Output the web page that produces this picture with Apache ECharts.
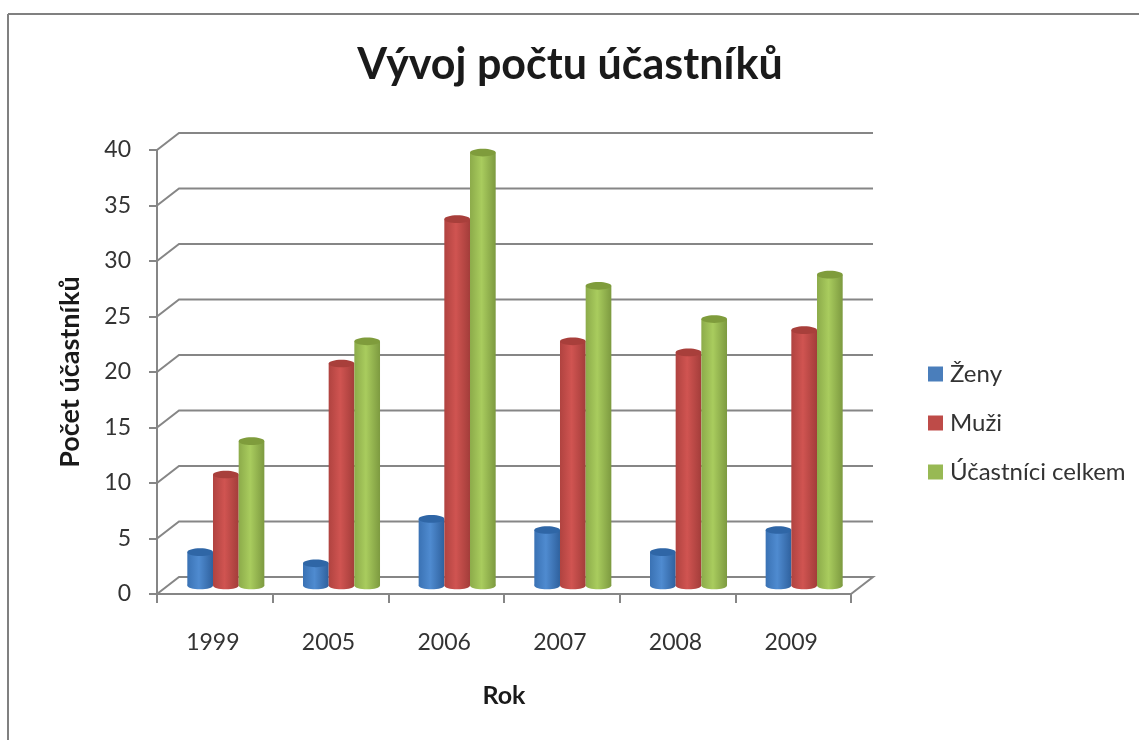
<!DOCTYPE html>
<html>
<head>
<meta charset="utf-8">
<title>Vývoj počtu účastníků</title>
<script src="https://cdn.jsdelivr.net/npm/echarts@6/dist/echarts.min.js"></script>
<style>
html, body { margin: 0; padding: 0; background: #fff; }
#chart { width: 1139px; height: 740px; }
</style>
</head>
<body>
<div id="chart"></div>
<script>
var years = ['1999', '2005', '2006', '2007', '2008', '2009'];
var zeny = [3, 2, 6, 5, 3, 5];
var muzi = [10, 20, 33, 22, 21, 23];
var celkem = [13, 22, 39, 27, 24, 28];
var gridTicks = [0, 5, 10, 15, 20, 25, 30, 35, 40];

var fontName = 'Lato';
var lineGray = '#868686';
// posun zadni steny oproti prednim osam
var wallX = 22, wallY = -17;

var chart = echarts.init(document.getElementById('chart'));

function shade(left, mid, right) {
    return {
        type: 'linear', x: 0, y: 0, x2: 1, y2: 0,
        colorStops: [
            { offset: 0, color: left },
            { offset: 0.45, color: mid },
            { offset: 1, color: right }
        ]
    };
}

function cylinder(slot, fill, topColor) {
    return function(params, api) {
        var base = api.coord([api.value(0), 0]);
        var top = api.coord([api.value(0), api.value(1)]);
        var w = api.size([1, 0])[0] * 0.222;
        var cx = base[0] + slot * w + wallX / 2;
        var yb = base[1] + wallY / 2;
        var yt = top[1] + wallY / 2;
        var ry = w * 0.15;
        return {
            type: 'group',
            children: [
                { type: 'ellipse', shape: { cx: cx, cy: yb, rx: w / 2, ry: ry }, style: { fill: fill } },
                { type: 'rect', shape: { x: cx - w / 2, y: yt, width: w, height: yb - yt }, style: { fill: fill } },
                { type: 'ellipse', shape: { cx: cx, cy: yt, rx: w / 2, ry: ry }, style: { fill: topColor } }
            ]
        };
    };
}

function barSeries(name, values, slot, flat, fill, topColor) {
    return {
        name: name,
        type: 'custom',
        z: 5,
        itemStyle: { color: flat },
        renderItem: cylinder(slot, fill, topColor),
        encode: { x: 0, y: 1 },
        data: values.map(function(v, i) { return [i, v]; })
    };
}

function wallLines(params, api) {
    var y = api.coord([0, api.value(1)])[1];
    var x = params.coordSys.x;
    var w = params.coordSys.width;
    var pts = [[x, y], [x + wallX, y + wallY], [x + w + wallX, y + wallY]];
    if (api.value(1) === 0) {
        pts.push([x + w, y]);
    }
    return {
        type: 'polyline',
        shape: { points: pts },
        style: { fill: null, stroke: lineGray, lineWidth: 2 }
    };
}

var option = {
    animation: false,
    backgroundColor: '#fff',
    title: {
        text: 'Vývoj počtu účastníků',
        left: 565,
        top: 39,
        textAlign: 'center',
        textStyle: { fontFamily: fontName, fontSize: 43, fontWeight: 'bold', color: '#1a1a1a' }
    },
    grid: { left: 157, right: 288, top: 150, bottom: 146 },
    legend: {
        orient: 'vertical',
        left: 923,
        top: 357,
        itemGap: 25,
        itemWidth: 15,
        itemHeight: 15,
        icon: 'rect',
        data: ['Ženy', 'Muži', 'Účastníci celkem'],
        textStyle: { fontFamily: fontName, fontSize: 24, color: '#333', padding: [0, 0, 0, 2] }
    },
    xAxis: {
        type: 'category',
        data: years,
        name: 'Rok',
        nameLocation: 'middle',
        nameGap: 89,
        nameTextStyle: { fontFamily: fontName, fontSize: 25, fontWeight: 'bold', color: '#1a1a1a' },
        axisLine: { show: true, onZero: false, lineStyle: { color: lineGray, width: 2 } },
        axisTick: { show: true, length: 9, lineStyle: { color: lineGray, width: 2 } },
        axisLabel: { margin: 37, padding: [0, 4, 0, 0], fontFamily: fontName, fontSize: 23, color: '#333' },
        splitLine: { show: false }
    },
    yAxis: {
        type: 'value',
        min: 0,
        max: 40,
        interval: 5,
        name: 'Počet účastníků',
        nameLocation: 'middle',
        nameRotate: 90,
        nameGap: 73,
        nameTextStyle: { fontFamily: fontName, fontSize: 27, fontWeight: 'bold', color: '#1a1a1a' },
        axisLine: { show: true, onZero: false, lineStyle: { color: lineGray, width: 2 } },
        axisTick: { show: true, length: 8, lineStyle: { color: lineGray, width: 2 } },
        axisLabel: { margin: 26, padding: [12, 0, 0, 0], fontFamily: fontName, fontSize: 23, color: '#333' },
        splitLine: { show: false }
    },
    series: [
        {
            type: 'custom',
            silent: true,
            z: 1,
            renderItem: wallLines,
            data: gridTicks.map(function(t) { return [0, t]; })
        },
        barSeries('Ženy', zeny, -1, '#4a7ebb', shade('#3a72b4', '#4f8bd0', '#2f619e'), '#2f66a6'),
        barSeries('Muži', muzi, 0, '#be4b48', shade('#b04340', '#d05451', '#a33d3a'), '#a83f3b'),
        barSeries('Účastníci celkem', celkem, 1, '#98b954', shade('#8cab4a', '#a9cc5e', '#7d9a40'), '#7f9c3c')
    ],
    graphic: [
        { type: 'line', silent: true, shape: { x1: 8, y1: 14, x2: 1139, y2: 14 }, style: { stroke: '#808080', lineWidth: 2 } },
        { type: 'line', silent: true, shape: { x1: 8, y1: 14, x2: 8, y2: 740 }, style: { stroke: '#808080', lineWidth: 2 } }
    ]
};

chart.setOption(option);
</script>
</body>
</html>
